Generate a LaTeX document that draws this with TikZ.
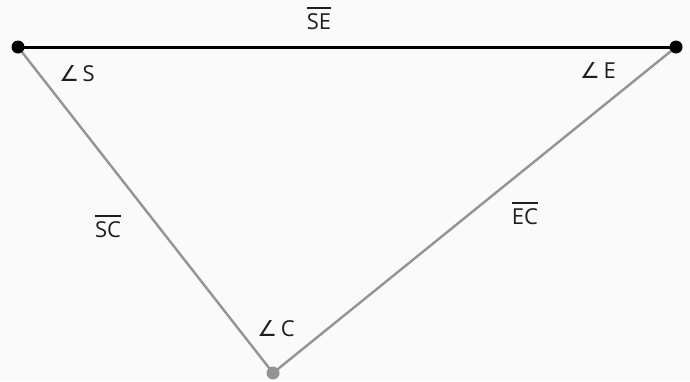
\documentclass[tikz,border=0pt]{standalone}
\usepackage{fontspec}
\setmainfont{Open Sans}
\newfontfamily\symfont{DejaVu Sans}
\newcommand{\ang}{{\symfont\char"2220}\,}
\newcommand{\seg}[1]{\leavevmode\vbox{\hrule height 1.4pt\kern 4.5pt\hbox{#1}}}
\begin{document}
\begin{tikzpicture}[x=1pt,y=-1pt,
  lbl/.style={font=\fontsize{22}{26}\selectfont, text=black!88, inner sep=0pt},
  side/.style={draw=black!42, line width=2.4pt},
  base/.style={draw=black, line width=3pt}]
\fill[black!2] (0,0) rectangle (690,381);
\useasboundingbox (0,0) rectangle (690,381);
\coordinate (S) at (18,47);
\coordinate (E) at (676,47);
\coordinate (C) at (273,373);
\draw[side] (S) -- (C) -- (E);
\draw[base] (S) -- (E);
\fill[black] (S) circle (6.5);
\fill[black] (E) circle (6.5);
\fill[black!42] (C) circle (6.5);
\node[lbl, anchor=base] (lSE) at (319,29) {\seg{SE}};
\node[lbl, anchor=base] (lS) at (77,81) {\ang S};
\node[lbl, anchor=base] (lE) at (598,78) {\ang E};
\node[lbl, anchor=base] (lSC) at (108,237) {\seg{SC}};
\node[lbl, anchor=base] (lEC) at (525,224) {\seg{EC}};
\node[lbl, anchor=base] (lC) at (276,336) {\ang C};
\end{tikzpicture}
\end{document}
